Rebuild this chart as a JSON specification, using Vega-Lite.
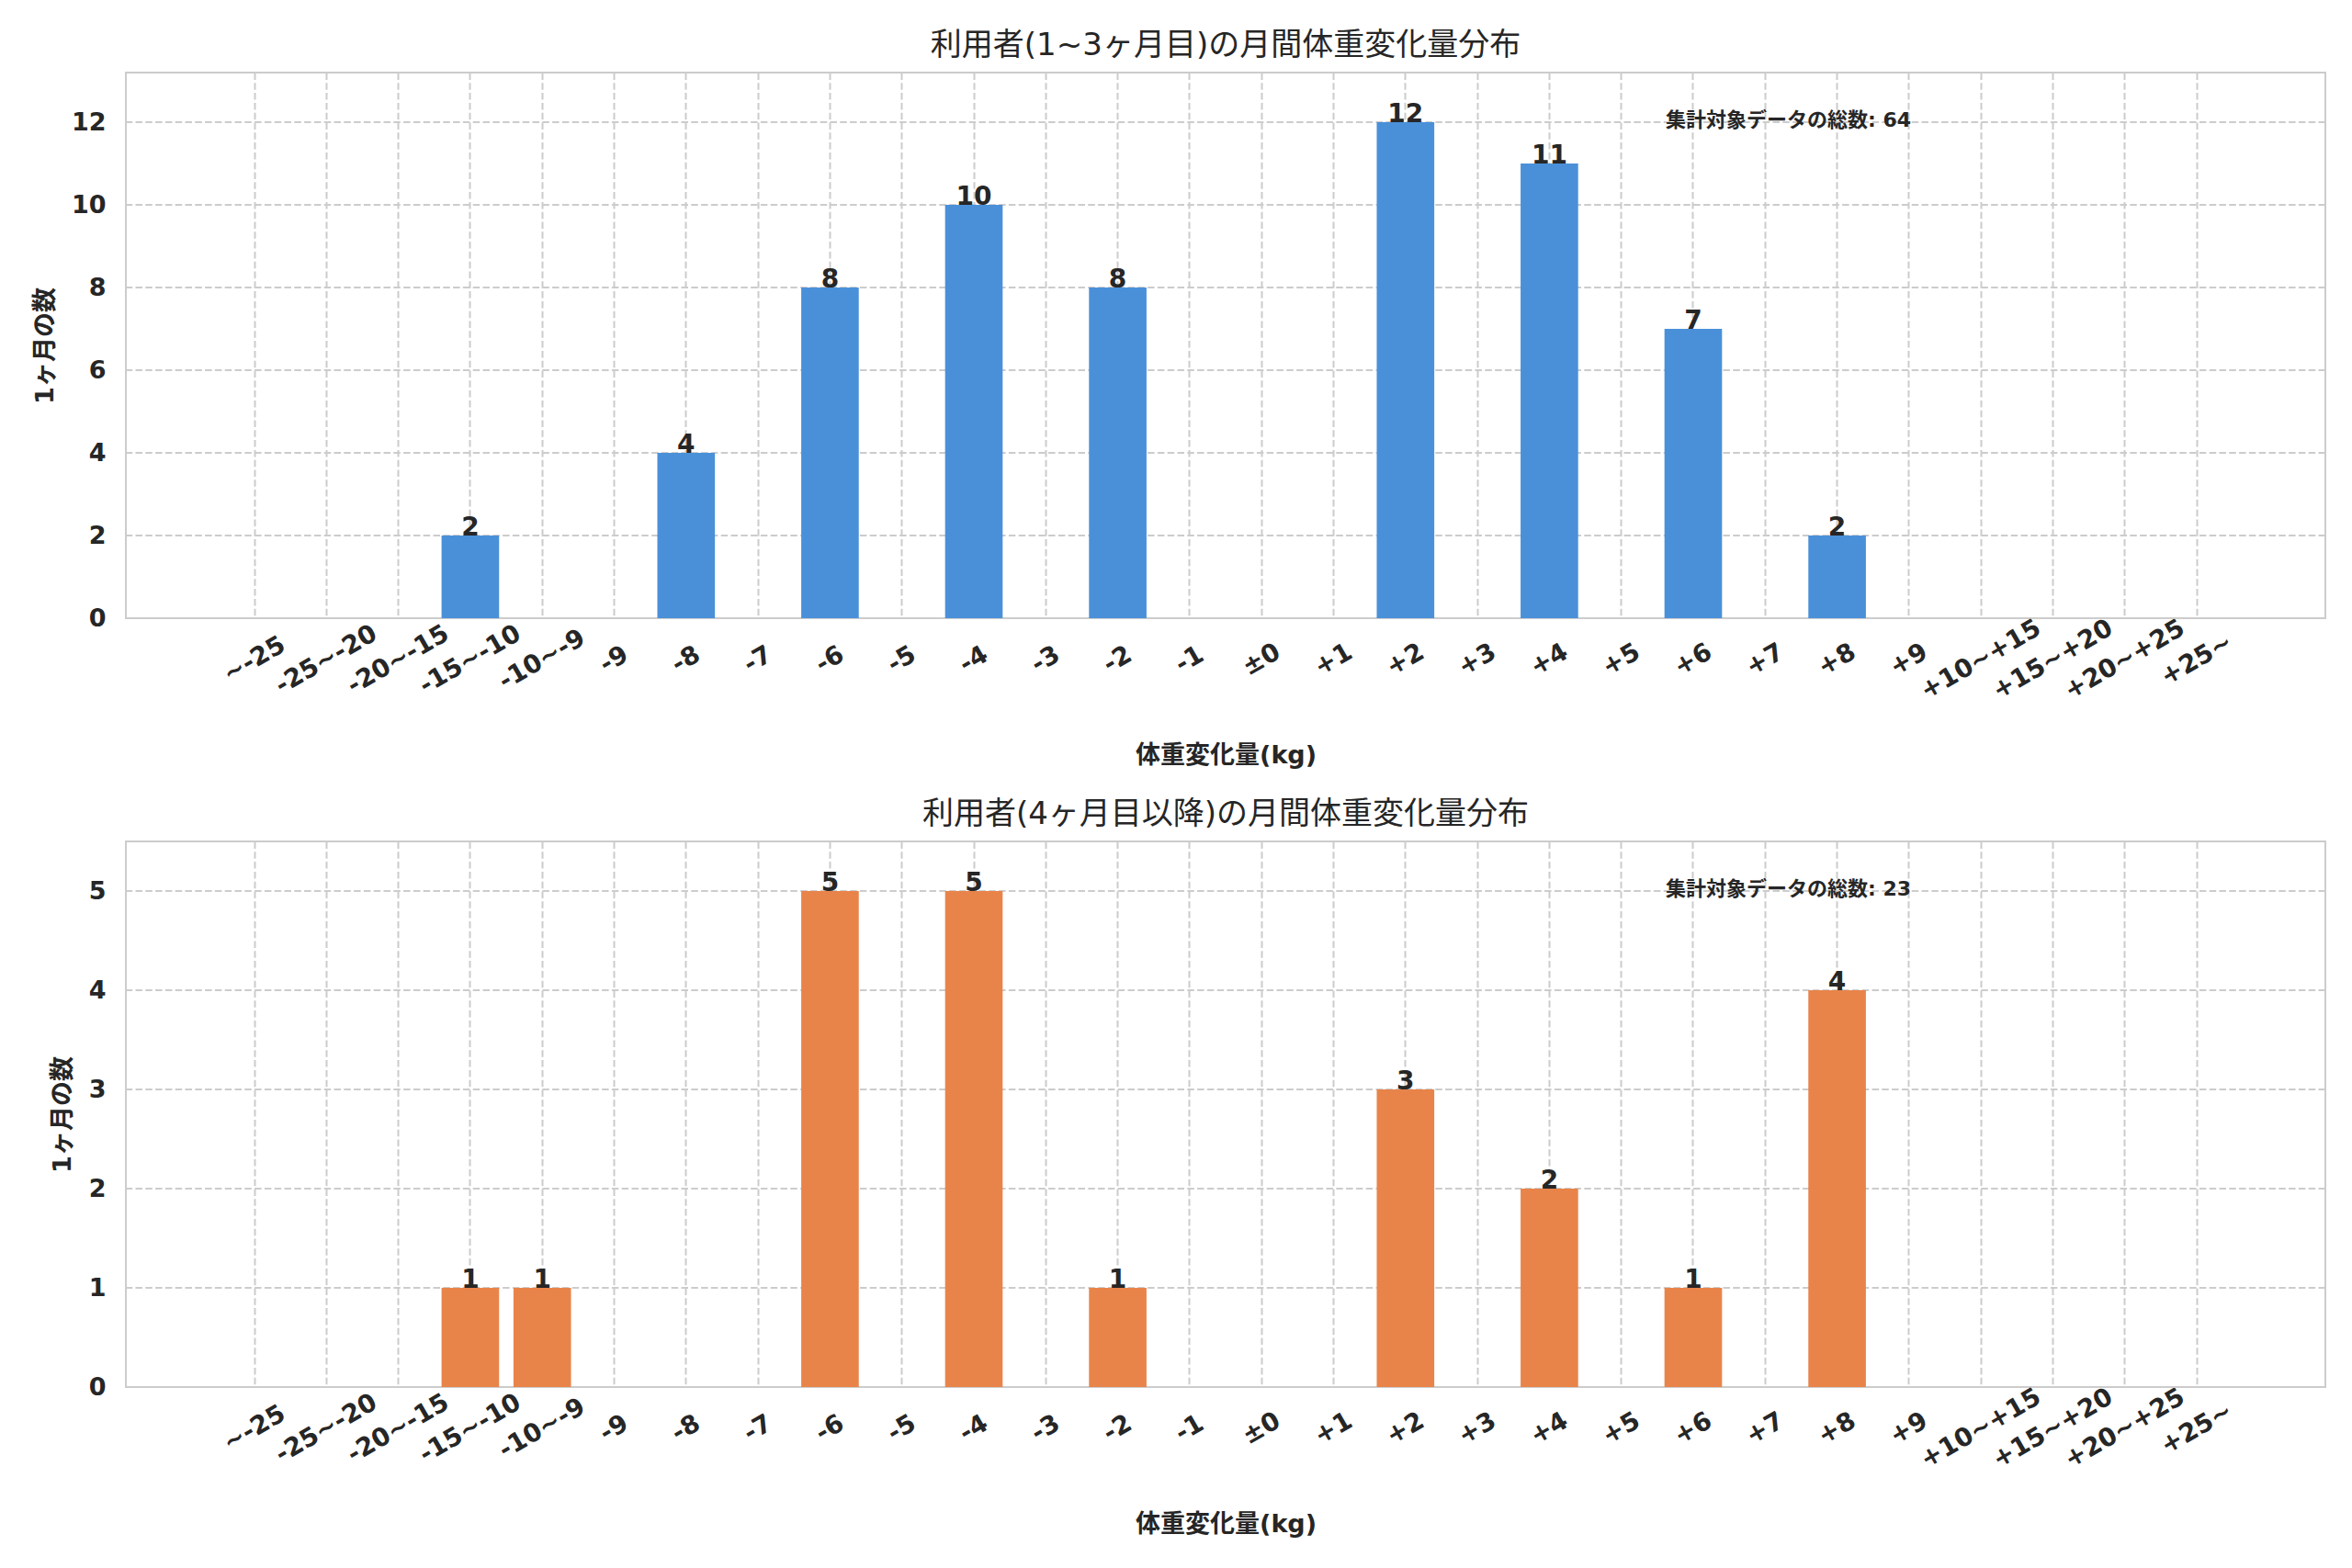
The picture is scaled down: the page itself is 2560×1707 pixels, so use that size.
{
  "$schema": "https://vega.github.io/schema/vega-lite/v6.json",
  "background": "white",
  "padding": {"left": 34, "top": 32, "right": 31, "bottom": 10},
  "spacing": 32,
  "datasets": {
    "hist": [
      {"period": "early", "bin": "~-25", "count": 0},
      {"period": "early", "bin": "-25~-20", "count": 0},
      {"period": "early", "bin": "-20~-15", "count": 0},
      {"period": "early", "bin": "-15~-10", "count": 2},
      {"period": "early", "bin": "-10~-9", "count": 0},
      {"period": "early", "bin": "-9", "count": 0},
      {"period": "early", "bin": "-8", "count": 4},
      {"period": "early", "bin": "-7", "count": 0},
      {"period": "early", "bin": "-6", "count": 8},
      {"period": "early", "bin": "-5", "count": 0},
      {"period": "early", "bin": "-4", "count": 10},
      {"period": "early", "bin": "-3", "count": 0},
      {"period": "early", "bin": "-2", "count": 8},
      {"period": "early", "bin": "-1", "count": 0},
      {"period": "early", "bin": "±0", "count": 0},
      {"period": "early", "bin": "+1", "count": 0},
      {"period": "early", "bin": "+2", "count": 12},
      {"period": "early", "bin": "+3", "count": 0},
      {"period": "early", "bin": "+4", "count": 11},
      {"period": "early", "bin": "+5", "count": 0},
      {"period": "early", "bin": "+6", "count": 7},
      {"period": "early", "bin": "+7", "count": 0},
      {"period": "early", "bin": "+8", "count": 2},
      {"period": "early", "bin": "+9", "count": 0},
      {"period": "early", "bin": "+10~+15", "count": 0},
      {"period": "early", "bin": "+15~+20", "count": 0},
      {"period": "early", "bin": "+20~+25", "count": 0},
      {"period": "early", "bin": "+25~", "count": 0},
      {"period": "late", "bin": "~-25", "count": 0},
      {"period": "late", "bin": "-25~-20", "count": 0},
      {"period": "late", "bin": "-20~-15", "count": 0},
      {"period": "late", "bin": "-15~-10", "count": 1},
      {"period": "late", "bin": "-10~-9", "count": 1},
      {"period": "late", "bin": "-9", "count": 0},
      {"period": "late", "bin": "-8", "count": 0},
      {"period": "late", "bin": "-7", "count": 0},
      {"period": "late", "bin": "-6", "count": 5},
      {"period": "late", "bin": "-5", "count": 0},
      {"period": "late", "bin": "-4", "count": 5},
      {"period": "late", "bin": "-3", "count": 0},
      {"period": "late", "bin": "-2", "count": 1},
      {"period": "late", "bin": "-1", "count": 0},
      {"period": "late", "bin": "±0", "count": 0},
      {"period": "late", "bin": "+1", "count": 0},
      {"period": "late", "bin": "+2", "count": 3},
      {"period": "late", "bin": "+3", "count": 0},
      {"period": "late", "bin": "+4", "count": 2},
      {"period": "late", "bin": "+5", "count": 0},
      {"period": "late", "bin": "+6", "count": 1},
      {"period": "late", "bin": "+7", "count": 0},
      {"period": "late", "bin": "+8", "count": 4},
      {"period": "late", "bin": "+9", "count": 0},
      {"period": "late", "bin": "+10~+15", "count": 0},
      {"period": "late", "bin": "+15~+20", "count": 0},
      {"period": "late", "bin": "+20~+25", "count": 0},
      {"period": "late", "bin": "+25~", "count": 0}
    ],
    "notes": [
      {"period": "early", "bin": "+6", "y": 12.05, "label": "集計対象データの総数: 64"},
      {"period": "late", "bin": "+6", "y": 5.02, "label": "集計対象データの総数: 23"}
    ],
    "ygrid": [
      {"period": "early", "v": 0}, {"period": "early", "v": 2}, {"period": "early", "v": 4},
      {"period": "early", "v": 6}, {"period": "early", "v": 8}, {"period": "early", "v": 10},
      {"period": "early", "v": 12},
      {"period": "late", "v": 0}, {"period": "late", "v": 1}, {"period": "late", "v": 2},
      {"period": "late", "v": 3}, {"period": "late", "v": 4}, {"period": "late", "v": 5}
    ]
  },
  "vconcat": [
    {
      "width": 2394,
      "height": 594,
      "title": "利用者(1~3ヶ月目)の月間体重変化量分布",
      "layer": [
        {
          "data": {"name": "ygrid"},
          "transform": [{"filter": "datum.period == 'early'"}],
          "mark": {"type": "rule", "color": "#cccccc", "strokeWidth": 2, "strokeDash": [7.5, 3.3]},
          "encoding": {
            "y": {"field": "v", "type": "quantitative", "title": "1ヶ月の数"}
          }
        },
        {
          "data": {"name": "hist"},
          "transform": [{"filter": "datum.period == 'early'"}],
          "mark": {"type": "bar", "color": "#4A90D9"},
          "encoding": {
            "x": {"field": "bin", "type": "nominal", "title": "体重変化量(kg)",
              "scale": {"domain": ["~-25", "-25~-20", "-20~-15", "-15~-10", "-10~-9", "-9", "-8", "-7", "-6", "-5", "-4", "-3", "-2", "-1", "±0", "+1", "+2", "+3", "+4", "+5", "+6", "+7", "+8", "+9", "+10~+15", "+15~+20", "+20~+25", "+25~"], "paddingInner": 0.2, "paddingOuter": 0, "range": [108.7, 2285.4]}},
            "y": {"field": "count", "type": "quantitative", "title": "1ヶ月の数",
              "scale": {"domain": [0, 13.2], "nice": false},
              "axis": {"values": [0, 2, 4, 6, 8, 10, 12], "format": "d"}}
          }
        },
        {
          "data": {"name": "hist"},
          "transform": [{"filter": "datum.period == 'early' && datum.count > 0"}],
          "mark": {"type": "text", "baseline": "alphabetic", "fontSize": 28, "fontWeight": "bold", "font": "DejaVu Sans", "color": "#262626"},
          "encoding": {
            "x": {"field": "bin", "type": "nominal", "title": "体重変化量(kg)"},
            "y": {"field": "count", "type": "quantitative", "title": "1ヶ月の数"},
            "text": {"field": "count"}
          }
        },
        {
          "data": {"name": "notes"},
          "transform": [{"filter": "datum.period == 'early'"}],
          "mark": {"type": "text", "align": "left", "baseline": "middle", "dx": -30, "fontSize": 22, "fontWeight": "bold", "font": "DejaVu Sans, Noto Sans CJK JP", "color": "#262626"},
          "encoding": {
            "x": {"field": "bin", "type": "nominal", "title": "体重変化量(kg)"},
            "y": {"field": "y", "type": "quantitative", "title": "1ヶ月の数"},
            "text": {"field": "label"}
          }
        }
      ]
    },
    {
      "width": 2394,
      "height": 594,
      "title": "利用者(4ヶ月目以降)の月間体重変化量分布",
      "layer": [
        {
          "data": {"name": "ygrid"},
          "transform": [{"filter": "datum.period == 'late'"}],
          "mark": {"type": "rule", "color": "#cccccc", "strokeWidth": 2, "strokeDash": [7.5, 3.3]},
          "encoding": {
            "y": {"field": "v", "type": "quantitative", "title": "1ヶ月の数"}
          }
        },
        {
          "data": {"name": "hist"},
          "transform": [{"filter": "datum.period == 'late'"}],
          "mark": {"type": "bar", "color": "#E8844A"},
          "encoding": {
            "x": {"field": "bin", "type": "nominal", "title": "体重変化量(kg)",
              "scale": {"domain": ["~-25", "-25~-20", "-20~-15", "-15~-10", "-10~-9", "-9", "-8", "-7", "-6", "-5", "-4", "-3", "-2", "-1", "±0", "+1", "+2", "+3", "+4", "+5", "+6", "+7", "+8", "+9", "+10~+15", "+15~+20", "+20~+25", "+25~"], "paddingInner": 0.2, "paddingOuter": 0, "range": [108.7, 2285.4]}},
            "y": {"field": "count", "type": "quantitative", "title": "1ヶ月の数",
              "scale": {"domain": [0, 5.5], "nice": false},
              "axis": {"values": [0, 1, 2, 3, 4, 5], "format": "d"}}
          }
        },
        {
          "data": {"name": "hist"},
          "transform": [{"filter": "datum.period == 'late' && datum.count > 0"}],
          "mark": {"type": "text", "baseline": "alphabetic", "fontSize": 28, "fontWeight": "bold", "font": "DejaVu Sans", "color": "#262626"},
          "encoding": {
            "x": {"field": "bin", "type": "nominal", "title": "体重変化量(kg)"},
            "y": {"field": "count", "type": "quantitative", "title": "1ヶ月の数"},
            "text": {"field": "count"}
          }
        },
        {
          "data": {"name": "notes"},
          "transform": [{"filter": "datum.period == 'late'"}],
          "mark": {"type": "text", "align": "left", "baseline": "middle", "dx": -30, "fontSize": 22, "fontWeight": "bold", "font": "DejaVu Sans, Noto Sans CJK JP", "color": "#262626"},
          "encoding": {
            "x": {"field": "bin", "type": "nominal", "title": "体重変化量(kg)"},
            "y": {"field": "y", "type": "quantitative", "title": "1ヶ月の数"},
            "text": {"field": "label"}
          }
        }
      ]
    }
  ],
  "config": {
    "view": {"stroke": "#cccccc", "strokeWidth": 2},
    "axis": {
      "labelFont": "DejaVu Sans, Noto Sans CJK JP",
      "labelFontSize": 27,
      "labelFontWeight": "bold",
      "labelColor": "#262626",
      "titleFont": "DejaVu Sans, Noto Sans CJK JP",
      "titleFontSize": 27,
      "titleFontWeight": "bold",
      "titleColor": "#262626",
      "domain": false,
      "ticks": false,
      "grid": true,
      "gridColor": "#cccccc",
      "gridDash": [7.5, 3.3],
      "gridWidth": 2
    },
    "axisY": {"labelPadding": 22, "titlePadding": 14, "grid": false},
    "axisX": {
      "labelFontSize": 27.5,
      "labelAngle": -30,
      "labelAlign": "center",
      "labelBaseline": "middle",
      "labelPadding": 45,
      "labelOverlap": false,
      "titlePadding": 43,
      "encoding": {
        "labels": {
          "dx": {"value": {"expr": "-0.5 * 4.5 * (length(datum.label) - 4)"}},
          "dy": {"value": {"expr": "0.866 * 4.5 * (length(datum.label) - 4)"}}
        }
      }
    },
    "title": {
      "font": "DejaVu Sans, Noto Sans CJK JP",
      "fontSize": 34,
      "fontWeight": "normal",
      "color": "#262626",
      "offset": 12,
      "baseline": "bottom"
    }
  }
}
